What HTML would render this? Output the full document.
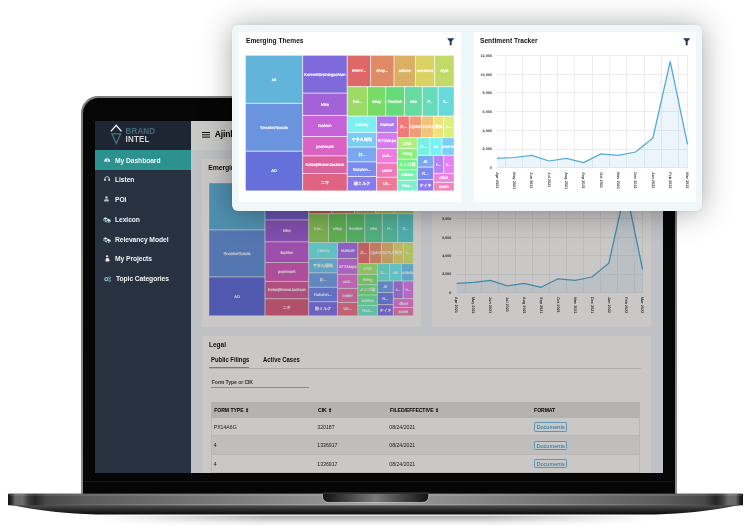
<!DOCTYPE html>
<html lang="en"><head><meta charset="utf-8"><title>Brand Intel Dashboard</title>
<style>
*{box-sizing:border-box;margin:0;padding:0}
html,body{width:750px;height:530px;overflow:hidden;background:#fff}
body{position:relative;font-family:"Liberation Sans", "Noto Sans CJK JP", sans-serif;color:#111}
.abs{position:absolute}
svg{display:block;overflow:visible}
.tx{font-family:"Liberation Sans", "Noto Sans CJK JP", sans-serif;text-rendering:geometricPrecision}
.tm text{font-weight:normal;letter-spacing:-.02px;stroke:#fff;stroke-width:.16px}
/* laptop */
#lid{position:absolute;left:81px;top:96px;width:595.5px;height:398px;border-radius:17px 17px 0 0;background:linear-gradient(180deg,#808080,#787878 10%,#8e8e8e 100%)}
#lid:before{content:"";position:absolute;left:1.6px;top:2.1px;right:1.8px;bottom:0;border-radius:15.6px 15.6px 0 0;background:#060606}
#hinge{position:absolute;left:82.6px;top:481.3px;width:591px;height:1.2px;background:#161616}
#screen{will-change:transform;position:absolute;left:95px;top:121px;width:568px;height:352px;overflow:hidden;background:#eef2f6}
#side{position:absolute;left:0;top:0;width:95.6px;height:352px;background:#273140}
#logo{position:absolute;left:0;top:0;width:95.6px;height:29px;background:#1f2633}
.mi{position:absolute;left:0;width:95.6px;height:10px;line-height:10px;padding-left:19.6px;font-size:7.5px;font-weight:bold;color:#f2f4f6;letter-spacing:-.1px;white-space:nowrap}
.st{display:inline-block;transform:scaleX(.9);transform-origin:0 50%}
#act{position:absolute;left:0;top:29px;width:95.6px;height:20px;background:#2b9290}
#main{position:absolute;left:95.6px;top:0;width:472.4px;height:352px;background:#eff2f6}
#hdr{position:absolute;left:0;top:0;width:472.4px;height:29px;background:#fbfaf9}
.card{position:absolute;background:#fdfbf9;border-radius:2px}
.ttl{position:absolute;font-size:6.9px;font-weight:bold;color:#111;white-space:nowrap;letter-spacing:-.12px}
#dim{position:absolute;left:95.6px;top:0;width:472.4px;height:352px;background:rgba(0,0,0,.2)}
.th{position:absolute;left:9.3px;top:66px;width:428.8px;height:16px;background:#e2e0de;font-size:5.1px;font-weight:bold;color:#000;line-height:16px;letter-spacing:-.05px}
.th span,.tr span{position:absolute;white-space:nowrap}
.tr{position:absolute;left:9.3px;width:428.8px;font-size:5.2px;color:#262626;line-height:18px;border-bottom:.5px solid #e8e6e4;border-left:.5px solid #e8e6e4;border-right:.5px solid #e8e6e4}
.btn{position:absolute;left:322.2px;top:4.3px;width:32.6px;height:9.6px;line-height:8.4px;border:.55px solid #78bcdc;border-radius:1.2px;background:#f8fbfd;color:#2c8fc0;font-size:5.7px;text-align:center;font-weight:normal;letter-spacing:-.05px}
/* floating card */
#float{position:absolute;left:232px;top:25px;width:469.6px;height:186px;border-radius:6px;background:#f0f7f8;box-shadow:0 1px 31px rgba(0,0,0,.35),0 0 5px rgba(0,0,0,.05)}
.pan{position:absolute;top:7px;height:170.4px;background:#fff}
.ft{position:absolute;top:11.1px;font-size:8px;font-weight:bold;color:#111;letter-spacing:0;white-space:nowrap;transform:scaleX(.83);transform-origin:0 0}
</style></head><body>

<!-- ground shadow -->
<div class="abs" style="left:100px;top:515px;width:550px;height:11px;background:linear-gradient(180deg,rgba(0,0,0,0) 0,rgba(0,0,0,.30) 14%,rgba(0,0,0,.20) 40%,rgba(0,0,0,.07) 72%,rgba(0,0,0,0) 100%);-webkit-mask-image:linear-gradient(90deg,transparent 0,#000 30%,#000 70%,transparent 100%);mask-image:linear-gradient(90deg,transparent 0,#000 30%,#000 70%,transparent 100%)"></div>

<div id="lid"></div>
<div id="hinge"></div>

<div id="screen">
  <div id="side">
    <div id="logo">
      <svg class="abs" style="left:15.4px;top:3px" width="12.2" height="20.6" viewBox="0 0 12 21">
        <path d="M0.7 7.5 L6.1 1.3 L11.5 7.5" fill="none" stroke="#eceef0" stroke-width="1.45"/>
        <path d="M1.7 10 H10.6 L6.15 19.9 Z" fill="none" stroke="#4d7480" stroke-width="1.25"/>
      </svg>
      <div class="abs" style="left:30.6px;top:6.2px;font-size:8px;line-height:8px;font-weight:bold;color:#456b78;letter-spacing:.12px;transform:scaleY(1.16);transform-origin:0 0">BRAND</div>
      <div class="abs" style="left:30.6px;top:14.4px;font-size:8px;line-height:8px;font-weight:bold;color:#d4d6d8;letter-spacing:.2px;transform:scaleY(1.16);transform-origin:0 0">INTEL</div>
    </div>
    <div id="act"></div>
    <div class="mi" style="top:35.0px;padding-left:19.6px"><svg class="abs" style="left:8.6px;top:1.1px" width="6.4" height="5.0" viewBox="0 0 12.8 10.0"><path d="M0.4 9.6 A6 7 0 0 1 12.4 9.6 Z" fill="#e6eeee"/><path d="M6.4 8.2 L8.6 3.6" stroke="#2b9290" stroke-width="1.3"/><circle cx="6.4" cy="8" r="1.2" fill="#2b9290"/></svg><span class="st">My Dashboard</span></div>
<div class="mi" style="top:53.6px;padding-left:19.6px"><svg class="abs" style="left:8.6px;top:1.4px" width="6.2" height="5.4" viewBox="0 0 12.4 10.8"><path d="M1.6 8 V6 A4.6 4.6 0 0 1 10.8 6 V8" fill="none" stroke="#d6e4ec" stroke-width="1.7"/><rect x="0.6" y="6" width="3" height="4.2" rx="1" fill="#d6e4ec"/><rect x="8.8" y="6" width="3" height="4.2" rx="1" fill="#d6e4ec"/></svg><span class="st">Listen</span></div>
<div class="mi" style="top:73.5px;padding-left:19.6px"><svg class="abs" style="left:9.4px;top:1.4px" width="5.0" height="5.6" viewBox="0 0 10.0 11.2"><circle cx="5" cy="3" r="2.6" fill="#a9c5d5"/><path d="M0.4 11.2 V9.2 Q0.4 6.4 3.2 6.4 H6.8 Q9.6 6.4 9.6 9.2 V11.2Z" fill="#a9c5d5"/></svg><span class="st">POI</span></div>
<div class="mi" style="top:94.2px;padding-left:19.6px"><svg class="abs" style="left:7.6px;top:1.5px" width="8.4" height="6.0" viewBox="0 0 16.8 12.0"><path d="M4.6 0.6 L9.6 3 L4.6 5.6 L0.4 3Z" fill="#d8e8f0"/><path d="M10.6 3.6 L16.4 6.4 L11.4 9.2 L6.4 6.4Z" fill="#e4eef4"/><path d="M3.8 6.2 L8.4 8.6 L8.4 11.6 L3.8 9.4Z M2 5 L3 5.6 L3 9 L0.6 7.6 L0.6 4.4Z" fill="#8fb6cb"/><path d="M10 9.6 L15.6 7.4 L15.6 9.6 L11.4 11.8 L9.4 11Z" fill="#8fb6cb"/></svg><span class="st">Lexicon</span></div>
<div class="mi" style="top:114.2px;padding-left:19.6px"><svg class="abs" style="left:7.6px;top:1.5px" width="8.4" height="6.0" viewBox="0 0 16.8 12.0"><path d="M4.6 0.6 L9.6 3 L4.6 5.6 L0.4 3Z" fill="#d8e8f0"/><path d="M10.6 3.6 L16.4 6.4 L11.4 9.2 L6.4 6.4Z" fill="#e4eef4"/><path d="M3.8 6.2 L8.4 8.6 L8.4 11.6 L3.8 9.4Z M2 5 L3 5.6 L3 9 L0.6 7.6 L0.6 4.4Z" fill="#8fb6cb"/><path d="M10 9.6 L15.6 7.4 L15.6 9.6 L11.4 11.8 L9.4 11Z" fill="#8fb6cb"/></svg><span class="st">Relevancy Model</span></div>
<div class="mi" style="top:132.9px;padding-left:19.6px"><svg class="abs" style="left:10.0px;top:1.0px" width="4.8" height="6.6" viewBox="0 0 9.6 13.2"><circle cx="4.2" cy="2.6" r="2.3" fill="#efe9e2"/><path d="M1 13 V9.4 Q1 6 4.2 6 H5.6 Q8.8 6 8.8 9.4 V13Z" fill="#ece6e0"/></svg><span class="st">My Projects</span></div>
<div class="mi" style="top:153.2px;padding-left:20.5px"><svg class="abs" style="left:8.8px;top:1.7px" width="7.4" height="5.8" viewBox="0 0 14.8 11.6"><circle cx="4.6" cy="6.4" r="3.1" fill="none" stroke="#8db7cb" stroke-width="2.4"/><circle cx="11.4" cy="3.2" r="1.7" fill="none" stroke="#8db7cb" stroke-width="1.6"/><circle cx="11.4" cy="9.2" r="1.7" fill="none" stroke="#8db7cb" stroke-width="1.6"/></svg><span class="st">Topic Categories</span></div>
  </div>
  <div id="main">
    <div id="hdr">
      <div class="abs" style="left:11.4px;top:10.7px;width:8.4px;height:1.5px;background:#0a0a0a;box-shadow:0 2.3px 0 #0a0a0a,0 4.6px 0 #0a0a0a"></div>
      <div class="abs" style="left:24.2px;top:8px;font-size:8.6px;font-weight:bold;color:#000;white-space:nowrap;letter-spacing:-.2px">Ajinkya</div>
    </div>
    <div class="card" style="left:11px;top:38px;width:219.4px;height:167.6px"><div class="ttl" style="left:6.6px;top:4.6px">Emerging Themes</div></div>
    <div class="card" style="left:241.8px;top:38px;width:218.8px;height:167.6px"><div class="ttl" style="left:6.6px;top:4.6px">Sentiment Tracker</div></div>
    <div class="card" style="left:11.2px;top:215px;width:449.4px;height:140px">
      <div class="ttl" style="left:6.8px;top:4.2px;font-size:7.4px;color:#111;letter-spacing:0;transform:scaleX(.88);transform-origin:0 0">Legal</div>
      <div class="ttl" style="left:9.2px;top:19px;font-size:7.2px;letter-spacing:0;transform:scaleX(.82);transform-origin:0 0">Public Filings</div>
      <div class="ttl" style="left:61.4px;top:19px;font-size:7.2px;letter-spacing:0;transform:scaleX(.82);transform-origin:0 0">Active Cases</div>
      <div class="abs" style="left:7.2px;top:31.6px;width:432.4px;height:.6px;background:#dddbd9"></div>
      <div class="abs" style="left:7.2px;top:31.1px;width:40.4px;height:1.3px;background:#44bdba"></div>
      <div class="ttl" style="left:10px;top:42.6px;font-size:5.2px;color:#444;font-weight:bold">Form Type or CIK</div>
      <div class="abs" style="left:9.4px;top:51.2px;width:98px;height:.7px;background:#a4b2ba"></div>
      <div class="th"><span style="left:3.2px">FORM TYPE &#8661;</span><span style="left:107px">CIK &#8661;</span><span style="left:179px">FILED/EFFECTIVE &#8661;</span><span style="left:323px">FORMAT</span></div>
      <div class="tr" style="top:82.0px;height:18.4px;background:#fdfbf9"><span style="left:1.6px">PX14A6G</span><span style="left:105.2px">320187</span><span style="left:177.2px">08/24/2021</span><b class="btn">Documents</b></div>
<div class="tr" style="top:100.4px;height:18.2px;background:#f0eeeb"><span style="left:1.6px">4</span><span style="left:105.2px">1336917</span><span style="left:177.2px">08/24/2021</span><b class="btn">Documents</b></div>
<div class="tr" style="top:118.6px;height:18.4px;background:#fdfbf9"><span style="left:1.6px">4</span><span style="left:105.2px">1336917</span><span style="left:177.2px">08/24/2021</span><b class="btn">Documents</b></div>
    </div>
  </div>
  <svg class="abs" style="left:114px;top:62px" width="206" height="134" viewBox="0 0 206 134"><g transform="translate(0.00 0.00) scale(0.98)">
<rect x="0.0" y="0.0" width="57.1" height="47.9" fill="#63b4db"/>
<rect x="0.0" y="47.9" width="57.1" height="47.9" fill="#6a94de"/>
<rect x="0.0" y="95.8" width="57.1" height="39.6" fill="#6670db"/>
<rect x="57.1" y="0.0" width="44.6" height="37.7" fill="#7f6adb"/>
<rect x="57.1" y="37.7" width="44.6" height="22.3" fill="#a362d8"/>
<rect x="57.1" y="60.0" width="44.6" height="21.1" fill="#c662d8"/>
<rect x="57.1" y="81.1" width="44.6" height="19.3" fill="#da62c2"/>
<rect x="57.1" y="100.4" width="44.6" height="17.7" fill="#db629f"/>
<rect x="57.1" y="118.1" width="44.6" height="17.3" fill="#de6482"/>
<rect x="101.7" y="0.0" width="23.4" height="31.3" fill="#de6868"/>
<rect x="125.1" y="0.0" width="23.4" height="31.3" fill="#de8a64"/>
<rect x="148.5" y="0.0" width="21.5" height="31.3" fill="#dbb064"/>
<rect x="170.0" y="0.0" width="19.2" height="31.3" fill="#dbd264"/>
<rect x="189.2" y="0.0" width="19.3" height="31.3" fill="#c2db68"/>
<rect x="101.7" y="31.3" width="20.3" height="29.4" fill="#9cdb66"/>
<rect x="122.0" y="31.3" width="18.2" height="29.4" fill="#77db66"/>
<rect x="140.2" y="31.3" width="18.8" height="29.4" fill="#66db7a"/>
<rect x="159.0" y="31.3" width="17.8" height="29.4" fill="#66db9f"/>
<rect x="176.8" y="31.3" width="15.8" height="29.4" fill="#66dbba"/>
<rect x="192.6" y="31.3" width="15.9" height="29.4" fill="#66d9db"/>
<rect x="101.7" y="60.7" width="29.4" height="16.3" fill="#7af0f0"/>
<rect x="101.7" y="77.0" width="29.4" height="14.7" fill="#7acdf2"/>
<rect x="101.7" y="91.7" width="29.4" height="14.7" fill="#7aa8f0"/>
<rect x="101.7" y="106.4" width="29.4" height="14.7" fill="#7a8cf0"/>
<rect x="101.7" y="121.1" width="29.4" height="14.3" fill="#8a7af0"/>
<rect x="131.1" y="60.7" width="20.8" height="16.3" fill="#b07af0"/>
<rect x="131.1" y="77.0" width="20.8" height="16.2" fill="#d67af0"/>
<rect x="131.1" y="93.2" width="20.8" height="14.4" fill="#f07ae0"/>
<rect x="131.1" y="107.6" width="20.8" height="14.3" fill="#f07ab8"/>
<rect x="131.1" y="121.9" width="20.8" height="13.5" fill="#f07a94"/>
<rect x="151.9" y="60.7" width="12.0" height="21.5" fill="#f07a7a"/>
<rect x="163.9" y="60.7" width="12.1" height="21.5" fill="#f09c7a"/>
<rect x="176.0" y="60.7" width="12.1" height="21.5" fill="#f0c27a"/>
<rect x="188.1" y="60.7" width="10.2" height="21.5" fill="#f0e27a"/>
<rect x="198.3" y="60.7" width="10.2" height="21.5" fill="#dbf07a"/>
<rect x="151.9" y="82.2" width="20.0" height="11.0" fill="#b0f07a"/>
<rect x="151.9" y="93.2" width="20.0" height="10.6" fill="#8af07a"/>
<rect x="151.9" y="103.8" width="20.0" height="10.5" fill="#7af08c"/>
<rect x="151.9" y="114.3" width="20.0" height="10.6" fill="#7af0ac"/>
<rect x="151.9" y="124.9" width="20.0" height="10.5" fill="#7af0cc"/>
<rect x="171.9" y="82.2" width="12.4" height="17.8" fill="#7af0e0"/>
<rect x="184.3" y="82.2" width="12.1" height="17.8" fill="#7af0f5"/>
<rect x="196.4" y="82.2" width="12.1" height="17.8" fill="#7ad0f8"/>
<rect x="171.9" y="100.0" width="16.2" height="11.7" fill="#7aa8f5"/>
<rect x="171.9" y="111.7" width="16.2" height="12.4" fill="#7a8af0"/>
<rect x="171.9" y="124.1" width="16.2" height="11.3" fill="#8a7af0"/>
<rect x="188.1" y="100.0" width="10.0" height="18.0" fill="#b582f2"/>
<rect x="198.1" y="100.0" width="10.4" height="18.0" fill="#e482f4"/>
<rect x="188.1" y="118.0" width="20.4" height="9.0" fill="#f082e0"/>
<rect x="188.1" y="127.0" width="20.4" height="8.4" fill="#f284b8"/>
<path d="M0.0 0.0h57.1v47.9h-57.1zM0.0 47.9h57.1v47.9h-57.1zM0.0 95.8h57.1v39.6h-57.1zM57.1 0.0h44.6v37.7h-44.6zM57.1 37.7h44.6v22.3h-44.6zM57.1 60.0h44.6v21.1h-44.6zM57.1 81.1h44.6v19.3h-44.6zM57.1 100.4h44.6v17.7h-44.6zM57.1 118.1h44.6v17.3h-44.6zM101.7 0.0h23.4v31.3h-23.4zM125.1 0.0h23.4v31.3h-23.4zM148.5 0.0h21.5v31.3h-21.5zM170.0 0.0h19.2v31.3h-19.2zM189.2 0.0h19.3v31.3h-19.3zM101.7 31.3h20.3v29.4h-20.3zM122.0 31.3h18.2v29.4h-18.2zM140.2 31.3h18.8v29.4h-18.8zM159.0 31.3h17.8v29.4h-17.8zM176.8 31.3h15.8v29.4h-15.8zM192.6 31.3h15.9v29.4h-15.9zM101.7 60.7h29.4v16.3h-29.4zM101.7 77.0h29.4v14.7h-29.4zM101.7 91.7h29.4v14.7h-29.4zM101.7 106.4h29.4v14.7h-29.4zM101.7 121.1h29.4v14.3h-29.4zM131.1 60.7h20.8v16.3h-20.8zM131.1 77.0h20.8v16.2h-20.8zM131.1 93.2h20.8v14.4h-20.8zM131.1 107.6h20.8v14.3h-20.8zM131.1 121.9h20.8v13.5h-20.8zM151.9 60.7h12.0v21.5h-12.0zM163.9 60.7h12.1v21.5h-12.1zM176.0 60.7h12.1v21.5h-12.1zM188.1 60.7h10.2v21.5h-10.2zM198.3 60.7h10.2v21.5h-10.2zM151.9 82.2h20.0v11.0h-20.0zM151.9 93.2h20.0v10.6h-20.0zM151.9 103.8h20.0v10.5h-20.0zM151.9 114.3h20.0v10.6h-20.0zM151.9 124.9h20.0v10.5h-20.0zM171.9 82.2h12.4v17.8h-12.4zM184.3 82.2h12.1v17.8h-12.1zM196.4 82.2h12.1v17.8h-12.1zM171.9 100.0h16.2v11.7h-16.2zM171.9 111.7h16.2v12.4h-16.2zM171.9 124.1h16.2v11.3h-16.2zM188.1 100.0h10.0v18.0h-10.0zM198.1 100.0h10.4v18.0h-10.4zM188.1 118.0h20.4v9.0h-20.4zM188.1 127.0h20.4v8.4h-20.4z" fill="none" stroke="#fff" stroke-opacity=".5" stroke-width=".8"/>
<g class="tx tm" fill="#fff" font-size="4.1" text-anchor="middle">
<text x="28.6" y="25.4">ad</text>
<text x="28.6" y="73.3">SneakerScouts</text>
<text x="28.6" y="117.1">AD</text>
<text x="79.4" y="20.3">KeremBürsinlegueMan</text>
<text x="79.4" y="50.3">Nike</text>
<text x="79.4" y="72.0">fashion</text>
<text x="79.4" y="92.2">poshmark</text>
<text x="79.4" y="110.7">KetanjiBrownJackson</text>
<text x="79.4" y="128.2">ニキ</text>
<text x="113.4" y="17.1">ENHY...</text>
<text x="136.8" y="17.1">shop...</text>
<text x="159.2" y="17.1">adidas</text>
<text x="179.6" y="17.1">sneakers</text>
<text x="198.9" y="17.1">style</text>
<text x="111.9" y="47.5">Ker...</text>
<text x="131.1" y="47.5">eBay</text>
<text x="149.6" y="47.5">Reebok</text>
<text x="167.9" y="47.5">nike</text>
<text x="184.7" y="47.5">P...</text>
<text x="200.6" y="47.5">S...</text>
<text x="116.4" y="70.3">Udemy</text>
<text x="116.4" y="85.8">宇多丸珊瑚</text>
<text x="116.4" y="100.5">お...</text>
<text x="116.4" y="115.2">Rakuten...</text>
<text x="116.4" y="129.7">酸ミルク</text>
<text x="141.5" y="70.3">Mailcall</text>
<text x="141.5" y="86.6">BTSMaps</text>
<text x="141.5" y="101.9">und...</text>
<text x="141.5" y="116.2">crater</text>
<text x="141.5" y="130.1">Un...</text>
<text x="157.9" y="72.9">大...</text>
<text x="169.9" y="72.9">OpEd</text>
<text x="182.1" y="72.9">SOTU</text>
<text x="193.2" y="72.9">強気</text>
<text x="203.4" y="72.9">s...</text>
<text x="161.9" y="89.2">USA</text>
<text x="161.9" y="100.0">hiring</text>
<text x="161.9" y="110.5">メンズ靴</text>
<text x="161.9" y="121.1">Adidas</text>
<text x="161.9" y="131.6">Rea...</text>
<text x="178.1" y="92.6">D...</text>
<text x="190.4" y="92.6">Ad</text>
<text x="202.4" y="92.6">solaria</text>
<text x="180.0" y="107.3">AI</text>
<text x="180.0" y="119.4">R...</text>
<text x="180.0" y="131.2">ナイキ</text>
<text x="193.1" y="110.5">r...</text>
<text x="203.3" y="110.5">n...</text>
<text x="198.3" y="124.0">dibol</text>
<text x="198.3" y="132.7">scam</text>
</g></g></svg>
  <svg class="abs" style="left:337px;top:49px" width="230" height="160" viewBox="337 49 230 160">
<path d="M361.6 171.50H547.6M361.6 153.10H547.6M361.6 134.70H547.6M361.6 116.30H547.6M361.6 97.90H547.6M361.6 79.50H547.6M361.6 61.10H547.6M370.05 61.1V171.5M386.96 61.1V171.5M403.87 61.1V171.5M420.78 61.1V171.5M437.69 61.1V171.5M454.60 61.1V171.5M471.51 61.1V171.5M488.42 61.1V171.5M505.33 61.1V171.5M522.24 61.1V171.5M539.15 61.1V171.5M547.60 61.1V171.5" stroke="#ededed" stroke-width="1" fill="none" shape-rendering="crispEdges"/>
<path d="M361.6 162.3 L378.5 161.4 L395.4 159.3 L412.3 164.8 L429.2 162.3 L446.1 166.3 L463.1 157.8 L480.0 159.3 L496.9 156.0 L513.8 142.2 L530.7 67.0 L547.6 148.5 L547.6 171.5 L361.6 171.5Z" fill="#5aaee0" fill-opacity=".12"/>
<path d="M361.6 162.3 L378.5 161.4 L395.4 159.3 L412.3 164.8 L429.2 162.3 L446.1 166.3 L463.1 157.8 L480.0 159.3 L496.9 156.0 L513.8 142.2 L530.7 67.0 L547.6 148.5" stroke="#52aadc" stroke-width="1.25" fill="none" stroke-linejoin="round"/>
<g class="tx" font-size="3.7" fill="#3a3a3a" font-weight="bold" text-anchor="end">
<text x="356.4" y="172.8">0</text>
<text x="356.4" y="154.4">2,000</text>
<text x="356.4" y="136.0">4,000</text>
<text x="356.4" y="117.6">6,000</text>
<text x="356.4" y="99.2">8,000</text>
<text x="356.4" y="80.8">10,000</text>
<text x="356.4" y="62.4">12,000</text>
</g>
<g class="tx" font-size="3.75" fill="#3a3a3a" font-weight="bold">
<text transform="translate(360.4 176.0) rotate(90)">Apr 2021</text>
<text transform="translate(377.3 176.0) rotate(90)">May 2021</text>
<text transform="translate(394.2 176.0) rotate(90)">Jun 2021</text>
<text transform="translate(411.1 176.0) rotate(90)">Jul 2021</text>
<text transform="translate(428.0 176.0) rotate(90)">Aug 2021</text>
<text transform="translate(444.9 176.0) rotate(90)">Sep 2021</text>
<text transform="translate(461.9 176.0) rotate(90)">Oct 2021</text>
<text transform="translate(478.8 176.0) rotate(90)">Nov 2021</text>
<text transform="translate(495.7 176.0) rotate(90)">Dec 2021</text>
<text transform="translate(512.6 176.0) rotate(90)">Jan 2022</text>
<text transform="translate(529.5 176.0) rotate(90)">Feb 2022</text>
<text transform="translate(546.4 176.0) rotate(90)">Mar 2022</text>
</g></svg>
  <div id="dim"></div>
</div>

<!-- base -->
<svg class="abs" style="left:0;top:488px" width="750" height="42" viewBox="0 488 750 42">
  <defs>
    <linearGradient id="bg1" x1="0" x2="1" y1="0" y2="0">
      <stop offset="0" stop-color="#101010"/><stop offset=".004" stop-color="#242424"/><stop offset=".010" stop-color="#686868"/><stop offset=".020" stop-color="#6c6c6c"/><stop offset=".028" stop-color="#3c3c3c"/><stop offset=".037" stop-color="#262626"/><stop offset=".052" stop-color="#484848"/><stop offset=".11" stop-color="#5c5c5c"/><stop offset=".5" stop-color="#9c9c9c"/><stop offset=".89" stop-color="#5c5c5c"/><stop offset=".948" stop-color="#484848"/><stop offset=".963" stop-color="#262626"/><stop offset=".972" stop-color="#3c3c3c"/><stop offset=".980" stop-color="#6c6c6c"/><stop offset=".990" stop-color="#686868"/><stop offset=".996" stop-color="#242424"/><stop offset="1" stop-color="#101010"/>
    </linearGradient>
    <linearGradient id="lg" x1="0" x2="1" y1="0" y2="0"><stop offset="0" stop-color="#ccc" stop-opacity="0"/><stop offset=".25" stop-color="#ccc" stop-opacity=".4"/><stop offset=".75" stop-color="#ccc" stop-opacity=".4"/><stop offset="1" stop-color="#ccc" stop-opacity="0"/></linearGradient>
    <linearGradient id="bg2" x1="0" x2="0" y1="0" y2="1">
      <stop offset="0" stop-color="#4a4a4a"/><stop offset=".55" stop-color="#505050"/><stop offset=".75" stop-color="#2e2e2e"/><stop offset="1" stop-color="#0c0c0c"/>
    </linearGradient>
    <linearGradient id="ng" x1="0" x2="1" y1="0" y2="0">
      <stop offset="0" stop-color="#111"/><stop offset=".5" stop-color="#7a7a7a"/><stop offset="1" stop-color="#111"/>
    </linearGradient>
  </defs>
  <path d="M8 505 L8 494.6 Q8 493.8 9 493.8 L742 493.8 Q743 493.8 743 494.6 L743 504.8 C728 507 700 513.5 655 514.4 L96 514.4 C51 513.5 23 507 8 504.8Z" fill="url(#bg2)"/>
  <path d="M8 494.6 Q8 493.8 9 493.8 L742 493.8 Q743 493.8 743 494.6 L743 505.2 L8 505.2Z" fill="url(#bg1)"/>
  <rect x="9" y="493.8" width="733" height="2.2" fill="#fff" fill-opacity=".10"/><rect x="40" y="504.2" width="671" height="1" fill="url(#lg)"/>
  <path d="M322.4 493.2 H428.8 V495.6 Q428.8 502.6 421.8 502.6 H329.4 Q322.4 502.6 322.4 495.6Z" fill="url(#ng)" stroke="#d8d8d8" stroke-opacity=".9" stroke-width=".8"/>
  <rect x="322" y="492.6" width="107.2" height="1.1" fill="#0a0a0a"/>
</svg>

<!-- floating card -->
<div id="fw" style="position:absolute;left:0;top:0;width:750px;height:530px;will-change:transform">
<div id="float">
  <div class="pan" style="left:6.8px;width:222.2px"></div>
  <div class="pan" style="left:242px;width:222.4px"></div>
  <div class="ft" style="left:13.6px">Emerging Themes</div>
  <div class="ft" style="left:247.6px">Sentiment Tracker</div>
  <svg class="abs" style="left:214.6px;top:12.7px" width="7.4" height="7.4" viewBox="0 0 10 10"><path d="M0.2 .5 H9.8 L6.3 4.8 V9.8 H3.7 V4.8Z" fill="#22384d"/></svg>
  <svg class="abs" style="left:451.4px;top:12.7px" width="7.4" height="7.4" viewBox="0 0 10 10"><path d="M0.2 .5 H9.8 L6.3 4.8 V9.8 H3.7 V4.8Z" fill="#22384d"/></svg>
</div>
<svg class="abs" style="left:245px;top:55px" width="210" height="137" viewBox="0 0 210 137"><g transform="translate(0.50 0.40) scale(1.0)">
<rect x="0.0" y="0.0" width="57.1" height="47.9" fill="#63b4db"/>
<rect x="0.0" y="47.9" width="57.1" height="47.9" fill="#6a94de"/>
<rect x="0.0" y="95.8" width="57.1" height="39.6" fill="#6670db"/>
<rect x="57.1" y="0.0" width="44.6" height="37.7" fill="#7f6adb"/>
<rect x="57.1" y="37.7" width="44.6" height="22.3" fill="#a362d8"/>
<rect x="57.1" y="60.0" width="44.6" height="21.1" fill="#c662d8"/>
<rect x="57.1" y="81.1" width="44.6" height="19.3" fill="#da62c2"/>
<rect x="57.1" y="100.4" width="44.6" height="17.7" fill="#db629f"/>
<rect x="57.1" y="118.1" width="44.6" height="17.3" fill="#de6482"/>
<rect x="101.7" y="0.0" width="23.4" height="31.3" fill="#de6868"/>
<rect x="125.1" y="0.0" width="23.4" height="31.3" fill="#de8a64"/>
<rect x="148.5" y="0.0" width="21.5" height="31.3" fill="#dbb064"/>
<rect x="170.0" y="0.0" width="19.2" height="31.3" fill="#dbd264"/>
<rect x="189.2" y="0.0" width="19.3" height="31.3" fill="#c2db68"/>
<rect x="101.7" y="31.3" width="20.3" height="29.4" fill="#9cdb66"/>
<rect x="122.0" y="31.3" width="18.2" height="29.4" fill="#77db66"/>
<rect x="140.2" y="31.3" width="18.8" height="29.4" fill="#66db7a"/>
<rect x="159.0" y="31.3" width="17.8" height="29.4" fill="#66db9f"/>
<rect x="176.8" y="31.3" width="15.8" height="29.4" fill="#66dbba"/>
<rect x="192.6" y="31.3" width="15.9" height="29.4" fill="#66d9db"/>
<rect x="101.7" y="60.7" width="29.4" height="16.3" fill="#7af0f0"/>
<rect x="101.7" y="77.0" width="29.4" height="14.7" fill="#7acdf2"/>
<rect x="101.7" y="91.7" width="29.4" height="14.7" fill="#7aa8f0"/>
<rect x="101.7" y="106.4" width="29.4" height="14.7" fill="#7a8cf0"/>
<rect x="101.7" y="121.1" width="29.4" height="14.3" fill="#8a7af0"/>
<rect x="131.1" y="60.7" width="20.8" height="16.3" fill="#b07af0"/>
<rect x="131.1" y="77.0" width="20.8" height="16.2" fill="#d67af0"/>
<rect x="131.1" y="93.2" width="20.8" height="14.4" fill="#f07ae0"/>
<rect x="131.1" y="107.6" width="20.8" height="14.3" fill="#f07ab8"/>
<rect x="131.1" y="121.9" width="20.8" height="13.5" fill="#f07a94"/>
<rect x="151.9" y="60.7" width="12.0" height="21.5" fill="#f07a7a"/>
<rect x="163.9" y="60.7" width="12.1" height="21.5" fill="#f09c7a"/>
<rect x="176.0" y="60.7" width="12.1" height="21.5" fill="#f0c27a"/>
<rect x="188.1" y="60.7" width="10.2" height="21.5" fill="#f0e27a"/>
<rect x="198.3" y="60.7" width="10.2" height="21.5" fill="#dbf07a"/>
<rect x="151.9" y="82.2" width="20.0" height="11.0" fill="#b0f07a"/>
<rect x="151.9" y="93.2" width="20.0" height="10.6" fill="#8af07a"/>
<rect x="151.9" y="103.8" width="20.0" height="10.5" fill="#7af08c"/>
<rect x="151.9" y="114.3" width="20.0" height="10.6" fill="#7af0ac"/>
<rect x="151.9" y="124.9" width="20.0" height="10.5" fill="#7af0cc"/>
<rect x="171.9" y="82.2" width="12.4" height="17.8" fill="#7af0e0"/>
<rect x="184.3" y="82.2" width="12.1" height="17.8" fill="#7af0f5"/>
<rect x="196.4" y="82.2" width="12.1" height="17.8" fill="#7ad0f8"/>
<rect x="171.9" y="100.0" width="16.2" height="11.7" fill="#7aa8f5"/>
<rect x="171.9" y="111.7" width="16.2" height="12.4" fill="#7a8af0"/>
<rect x="171.9" y="124.1" width="16.2" height="11.3" fill="#8a7af0"/>
<rect x="188.1" y="100.0" width="10.0" height="18.0" fill="#b582f2"/>
<rect x="198.1" y="100.0" width="10.4" height="18.0" fill="#e482f4"/>
<rect x="188.1" y="118.0" width="20.4" height="9.0" fill="#f082e0"/>
<rect x="188.1" y="127.0" width="20.4" height="8.4" fill="#f284b8"/>
<path d="M0.0 0.0h57.1v47.9h-57.1zM0.0 47.9h57.1v47.9h-57.1zM0.0 95.8h57.1v39.6h-57.1zM57.1 0.0h44.6v37.7h-44.6zM57.1 37.7h44.6v22.3h-44.6zM57.1 60.0h44.6v21.1h-44.6zM57.1 81.1h44.6v19.3h-44.6zM57.1 100.4h44.6v17.7h-44.6zM57.1 118.1h44.6v17.3h-44.6zM101.7 0.0h23.4v31.3h-23.4zM125.1 0.0h23.4v31.3h-23.4zM148.5 0.0h21.5v31.3h-21.5zM170.0 0.0h19.2v31.3h-19.2zM189.2 0.0h19.3v31.3h-19.3zM101.7 31.3h20.3v29.4h-20.3zM122.0 31.3h18.2v29.4h-18.2zM140.2 31.3h18.8v29.4h-18.8zM159.0 31.3h17.8v29.4h-17.8zM176.8 31.3h15.8v29.4h-15.8zM192.6 31.3h15.9v29.4h-15.9zM101.7 60.7h29.4v16.3h-29.4zM101.7 77.0h29.4v14.7h-29.4zM101.7 91.7h29.4v14.7h-29.4zM101.7 106.4h29.4v14.7h-29.4zM101.7 121.1h29.4v14.3h-29.4zM131.1 60.7h20.8v16.3h-20.8zM131.1 77.0h20.8v16.2h-20.8zM131.1 93.2h20.8v14.4h-20.8zM131.1 107.6h20.8v14.3h-20.8zM131.1 121.9h20.8v13.5h-20.8zM151.9 60.7h12.0v21.5h-12.0zM163.9 60.7h12.1v21.5h-12.1zM176.0 60.7h12.1v21.5h-12.1zM188.1 60.7h10.2v21.5h-10.2zM198.3 60.7h10.2v21.5h-10.2zM151.9 82.2h20.0v11.0h-20.0zM151.9 93.2h20.0v10.6h-20.0zM151.9 103.8h20.0v10.5h-20.0zM151.9 114.3h20.0v10.6h-20.0zM151.9 124.9h20.0v10.5h-20.0zM171.9 82.2h12.4v17.8h-12.4zM184.3 82.2h12.1v17.8h-12.1zM196.4 82.2h12.1v17.8h-12.1zM171.9 100.0h16.2v11.7h-16.2zM171.9 111.7h16.2v12.4h-16.2zM171.9 124.1h16.2v11.3h-16.2zM188.1 100.0h10.0v18.0h-10.0zM198.1 100.0h10.4v18.0h-10.4zM188.1 118.0h20.4v9.0h-20.4zM188.1 127.0h20.4v8.4h-20.4z" fill="none" stroke="#fff" stroke-opacity=".5" stroke-width=".8"/>
<g class="tx tm" fill="#fff" font-size="4.1" text-anchor="middle">
<text x="28.6" y="25.4">ad</text>
<text x="28.6" y="73.3">SneakerScouts</text>
<text x="28.6" y="117.1">AD</text>
<text x="79.4" y="20.3">KeremBürsinlegueMan</text>
<text x="79.4" y="50.3">Nike</text>
<text x="79.4" y="72.0">fashion</text>
<text x="79.4" y="92.2">poshmark</text>
<text x="79.4" y="110.7">KetanjiBrownJackson</text>
<text x="79.4" y="128.2">ニキ</text>
<text x="113.4" y="17.1">ENHY...</text>
<text x="136.8" y="17.1">shop...</text>
<text x="159.2" y="17.1">adidas</text>
<text x="179.6" y="17.1">sneakers</text>
<text x="198.9" y="17.1">style</text>
<text x="111.9" y="47.5">Ker...</text>
<text x="131.1" y="47.5">eBay</text>
<text x="149.6" y="47.5">Reebok</text>
<text x="167.9" y="47.5">nike</text>
<text x="184.7" y="47.5">P...</text>
<text x="200.6" y="47.5">S...</text>
<text x="116.4" y="70.3">Udemy</text>
<text x="116.4" y="85.8">宇多丸珊瑚</text>
<text x="116.4" y="100.5">お...</text>
<text x="116.4" y="115.2">Rakuten...</text>
<text x="116.4" y="129.7">酸ミルク</text>
<text x="141.5" y="70.3">Mailcall</text>
<text x="141.5" y="86.6">BTSMaps</text>
<text x="141.5" y="101.9">und...</text>
<text x="141.5" y="116.2">crater</text>
<text x="141.5" y="130.1">Un...</text>
<text x="157.9" y="72.9">大...</text>
<text x="169.9" y="72.9">OpEd</text>
<text x="182.1" y="72.9">SOTU</text>
<text x="193.2" y="72.9">強気</text>
<text x="203.4" y="72.9">s...</text>
<text x="161.9" y="89.2">USA</text>
<text x="161.9" y="100.0">hiring</text>
<text x="161.9" y="110.5">メンズ靴</text>
<text x="161.9" y="121.1">Adidas</text>
<text x="161.9" y="131.6">Rea...</text>
<text x="178.1" y="92.6">D...</text>
<text x="190.4" y="92.6">Ad</text>
<text x="202.4" y="92.6">solaria</text>
<text x="180.0" y="107.3">AI</text>
<text x="180.0" y="119.4">R...</text>
<text x="180.0" y="131.2">ナイキ</text>
<text x="193.1" y="110.5">r...</text>
<text x="203.3" y="110.5">n...</text>
<text x="198.3" y="124.0">dibol</text>
<text x="198.3" y="132.7">scam</text>
</g></g></svg>
<svg class="abs" style="left:474px;top:32px" width="222" height="170" viewBox="474 32 222 170">
<path d="M497.0 167.80H687.5M497.0 149.08H687.5M497.0 130.37H687.5M497.0 111.65H687.5M497.0 92.93H687.5M497.0 74.22H687.5M497.0 55.50H687.5M505.66 55.5V167.8M522.98 55.5V167.8M540.30 55.5V167.8M557.61 55.5V167.8M574.93 55.5V167.8M592.25 55.5V167.8M609.57 55.5V167.8M626.89 55.5V167.8M644.20 55.5V167.8M661.52 55.5V167.8M678.84 55.5V167.8M687.50 55.5V167.8" stroke="#ededed" stroke-width="1" fill="none" shape-rendering="crispEdges"/>
<path d="M497.0 158.4 L514.3 157.5 L531.6 155.4 L549.0 161.0 L566.3 158.4 L583.6 162.6 L600.9 153.9 L618.2 155.4 L635.5 152.0 L652.9 138.0 L670.2 61.5 L687.5 144.4 L687.5 167.8 L497.0 167.8Z" fill="#5aaee0" fill-opacity=".12"/>
<path d="M497.0 158.4 L514.3 157.5 L531.6 155.4 L549.0 161.0 L566.3 158.4 L583.6 162.6 L600.9 153.9 L618.2 155.4 L635.5 152.0 L652.9 138.0 L670.2 61.5 L687.5 144.4" stroke="#52aadc" stroke-width="1.25" fill="none" stroke-linejoin="round"/>
<g class="tx" font-size="3.7" fill="#3a3a3a" font-weight="bold" text-anchor="end">
<text x="491.8" y="169.1">0</text>
<text x="491.8" y="150.4">2,000</text>
<text x="491.8" y="131.7">4,000</text>
<text x="491.8" y="113.0">6,000</text>
<text x="491.8" y="94.2">8,000</text>
<text x="491.8" y="75.5">10,000</text>
<text x="491.8" y="56.8">12,000</text>
</g>
<g class="tx" font-size="3.75" fill="#3a3a3a" font-weight="bold">
<text transform="translate(495.8 172.3) rotate(90)">Apr 2021</text>
<text transform="translate(513.1 172.3) rotate(90)">May 2021</text>
<text transform="translate(530.4 172.3) rotate(90)">Jun 2021</text>
<text transform="translate(547.8 172.3) rotate(90)">Jul 2021</text>
<text transform="translate(565.1 172.3) rotate(90)">Aug 2021</text>
<text transform="translate(582.4 172.3) rotate(90)">Sep 2021</text>
<text transform="translate(599.7 172.3) rotate(90)">Oct 2021</text>
<text transform="translate(617.0 172.3) rotate(90)">Nov 2021</text>
<text transform="translate(634.3 172.3) rotate(90)">Dec 2021</text>
<text transform="translate(651.7 172.3) rotate(90)">Jan 2022</text>
<text transform="translate(669.0 172.3) rotate(90)">Feb 2022</text>
<text transform="translate(686.3 172.3) rotate(90)">Mar 2022</text>
</g></svg>
</div>
</body></html>
